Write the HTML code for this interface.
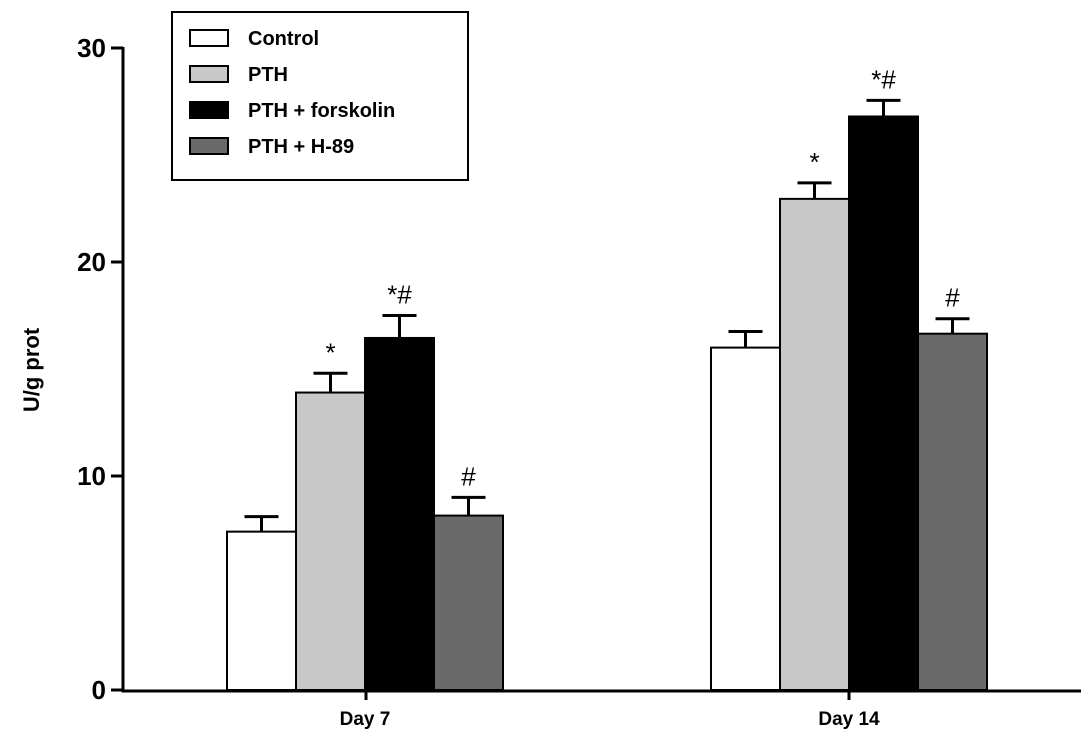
<!DOCTYPE html>
<html><head><meta charset="utf-8"><style>body{margin:0;background:#fff}svg{display:block;font-family:"Liberation Sans",Arial,sans-serif;font-weight:bold}</style></head>
<body>
<svg id="chart" width="1087" height="744" viewBox="0 0 1087 744"></svg>
<script>
const categories=["Day 7","Day 14"];
const seriesNames=["Control","PTH","PTH + forskolin","PTH + H-89"];
const seriesColors=["#ffffff","#c8c8c8","#000000","#6a6a6a"];
const control=[7.4,16.0];
const pth=[13.9,22.95];
const forskolin=[16.45,26.8];
const h89=[8.15,16.65];
const controlErr=[0.7,0.75];
const pthErr=[0.9,0.75];
const forskolinErr=[1.05,0.75];
const h89Err=[0.85,0.7];
const annotations=[["","*","*#","#"],["","*","*#","#"]];
const yTicks=[0,10,20,30];
const values=[control,pth,forskolin,h89];
const errs=[controlErr,pthErr,forskolinErr,h89Err];
const svg=document.getElementById('chart');
const NS="http://www.w3.org/2000/svg";
function y(v){return 690-v*(642/30);}
const groupStart=[227,711],barW=69;
function mk(t,a,p){const e=document.createElementNS(NS,t);for(const k in a)e.setAttribute(k,a[k]);(p||svg).appendChild(e);return e;}
categories.forEach((c,ci)=>{
 values.forEach((s,si)=>{
  const x=groupStart[ci]+si*barW, v=s[ci], top=errs[si][ci]+v, cx=x+barW/2;
  const el=mk('line',{x1:cx,x2:cx,y1:y(v),y2:y(top),stroke:'#000','stroke-width':3});
  
  
  const cap=mk('line',{x1:cx-17,x2:cx+17,y1:y(top),y2:y(top),stroke:'#000','stroke-width':3});
  
  
  const r=mk('rect',{x:x,y:y(v),width:barW,height:690-y(v),fill:seriesColors[si],stroke:'#000','stroke-width':2});
  
  
  if(annotations[ci][si]){const t=mk('text',{x:cx,y:y(top)-12,'text-anchor':'middle','font-size':26,'font-weight':'normal'});t.textContent=annotations[ci][si];
   
   }
 });
 const l=mk('text',{x:groupStart[ci]+2*barW,y:725,'text-anchor':'middle','font-size':19});l.textContent=c;
 
 
});
const ax=mk('path',{d:'M123 47 V691 H1081',fill:'none',stroke:'#000','stroke-width':3});


[366,849].forEach(x=>{const t=mk('line',{x1:x,x2:x,y1:690,y2:700,stroke:'#000','stroke-width':3});});
yTicks.forEach(v=>{
 const t=mk('line',{x1:111,x2:123,y1:y(v),y2:y(v),stroke:'#000','stroke-width':3});
 
 
 const l=mk('text',{x:106,y:y(v)+9,'text-anchor':'end','font-size':26});l.textContent=v;
 
 
});
const yt=mk('text',{x:0,y:0,transform:'translate(39,370) rotate(-90)','text-anchor':'middle','font-size':22});yt.textContent='U/g prot';


const lg=mk('g',{});


mk('rect',{x:172,y:12,width:296,height:168,fill:'#fff',stroke:'#000','stroke-width':2},lg);
seriesNames.forEach((n,i)=>{
 const yy=38+i*36;
 const s=mk('rect',{x:190,y:yy-8,width:38,height:16,fill:seriesColors[i],stroke:'#000','stroke-width':2},lg);
 
 
 const t=mk('text',{x:248,y:yy+7,'font-size':20},lg);t.textContent=n;
 
 
});
</script>
</body></html>
